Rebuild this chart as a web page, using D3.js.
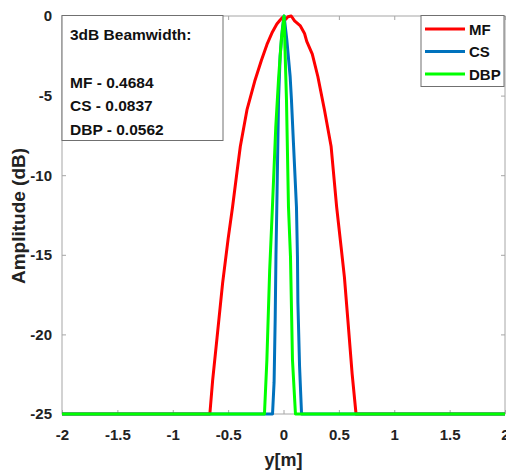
<!DOCTYPE html>
<html>
<head>
<meta charset="utf-8">
<script src="https://cdn.jsdelivr.net/npm/d3@7"></script>
<style>
  body { margin: 0; background: #fff; }
  text { font-family: "Liberation Sans", Arial, sans-serif; font-weight: bold; }
</style>
</head>
<body>
<script>
// series (x in m, amplitude in dB)
var xMF  = [-2, -0.665, -0.64, -0.6, -0.55, -0.5, -0.46, -0.42, -0.39, -0.33, -0.26, -0.2, -0.15, -0.1, -0.06, -0.03, -0.01, 0.02, 0.04, 0.07, 0.1, 0.15, 0.19, 0.21, 0.26, 0.31, 0.37, 0.43, 0.48, 0.52, 0.55, 0.58, 0.62, 0.655, 2];
var dbMF = [-25, -25, -22.9, -20.2, -16.8, -14, -12, -9.8, -8.2, -5.9, -4.1, -2.8, -1.8, -1.0, -0.5, -0.25, -0.1, -0.2, -0.05, 0, -0.3, -0.6, -1.1, -1.6, -2.4, -3.8, -5.9, -8.2, -12, -14.5, -16.4, -19, -22.5, -25, -25];

var xCS  = [-2, -0.099, -0.085, -0.075, -0.068, -0.058, -0.045, -0.03, -0.01, 0.005, 0.03, 0.06, 0.072, 0.09, 0.117, 0.126, 0.13, 0.145, 0.163, 2];
var dbCS = [-25, -25, -23, -19, -15, -11, -5.3, -2.5, -0.8, 0, -1.5, -3.8, -5.3, -8, -12, -15.1, -18, -22, -25, -25];

var xDBP  = [-2, -0.172, -0.15, -0.125, -0.1, -0.07, -0.045, -0.02, 0.005, 0.027, 0.045, 0.063, 0.081, 0.108, 2];
var dbDBP = [-25, -25, -21.6, -16, -12, -7, -4, -1.5, 0, -5.3, -12, -15.1, -21.6, -25, -25];

var seriesNames = ["MF", "CS", "DBP"];
var seriesColors = ["#ff0000", "#0072bd", "#00ff00"];
var xTicks = [-2, -1.5, -1, -0.5, 0, 0.5, 1, 1.5, 2];
var yTicks = [0, -5, -10, -15, -20, -25];
var noteLines = ["3dB Beamwidth:", "", "MF - 0.4684", "CS - 0.0837", "DBP - 0.0562"];

var W = 506, H = 472;
var pLeft = 62, pRight = 505, pTop = 16, pBottom = 414;

var svg = d3.select("body").append("svg").attr("width", W).attr("height", H);

var x = d3.scaleLinear().domain([-2, 2]).range([pLeft, pRight]);
var y = d3.scaleLinear().domain([-25, 0]).range([pBottom, pTop]);

var axisColor = "#a6a6a6";
var fmt = function(d) { return String(d); };

// box + inward ticks on all four sides
svg.append("rect").attr("x", pLeft).attr("y", pTop)
    .attr("width", pRight - pLeft).attr("height", pBottom - pTop)
    .attr("fill", "none").attr("stroke", axisColor).attr("stroke-width", 1);

function styleAxis(g) {
  g.select(".domain").remove();
  g.selectAll(".tick line").attr("stroke", axisColor);
  g.selectAll(".tick text").attr("fill", "#222").attr("font-size", 15);
}

svg.append("g").attr("transform", "translate(0," + pBottom + ")")
    .call(d3.axisBottom(x).tickValues(xTicks).tickSizeInner(-4).tickPadding(15).tickFormat(fmt))
    .call(styleAxis);
svg.append("g").attr("transform", "translate(0," + pTop + ")")
    .call(d3.axisTop(x).tickValues(xTicks).tickSizeInner(-4).tickFormat(""))
    .call(styleAxis);
svg.append("g").attr("transform", "translate(" + pLeft + ",0)")
    .call(d3.axisLeft(y).tickValues(yTicks).tickSizeInner(-4).tickPadding(10).tickFormat(fmt))
    .call(styleAxis);
svg.append("g").attr("transform", "translate(" + pRight + ",0)")
    .call(d3.axisRight(y).tickValues(yTicks).tickSizeInner(-4).tickFormat(""))
    .call(styleAxis);

// curves
var line = d3.line().x(function(d) { return x(d[0]); }).y(function(d) { return y(d[1]); });
var allX = [xMF, xCS, xDBP], allY = [dbMF, dbCS, dbDBP];

svg.append("g").selectAll("path").data(allX).enter().append("path")
    .attr("d", function(xs, i) { return line(d3.zip(xs, allY[i])); })
    .attr("fill", "none")
    .attr("stroke", function(d, i) { return seriesColors[i]; })
    .attr("stroke-width", 3)
    .attr("stroke-linejoin", "round");

// axis labels
svg.append("text").attr("x", x(0)).attr("y", 466).attr("text-anchor", "middle")
    .attr("font-size", 18).attr("fill", "#222").text("y[m]");
svg.append("text").attr("transform", "translate(25," + 216 + ") rotate(-90)")
    .attr("text-anchor", "middle").attr("font-size", 19).attr("fill", "#222").text("Amplitude (dB)");

// annotation box
var note = svg.append("g");
note.append("rect").attr("x", pLeft).attr("y", pTop - 0.5).attr("width", 161).attr("height", 125)
    .attr("fill", "#fff").attr("stroke", "#707070").attr("stroke-width", 1);
note.selectAll("text").data(noteLines).enter().append("text")
    .attr("x", 70).attr("y", function(d, i) { return 40 + i * 23.8; })
    .attr("font-size", 15.5).attr("fill", "#111").text(function(d) { return d; });

// legend
var leg = svg.append("g");
leg.append("rect").attr("x", 421).attr("y", pTop - 0.5).attr("width", 83).attr("height", 71)
    .attr("fill", "#fff").attr("stroke", "#707070").attr("stroke-width", 1);
var items = leg.selectAll("g").data(seriesNames).enter().append("g")
    .attr("transform", function(d, i) { return "translate(0," + (29 + i * 22.5) + ")"; });
items.append("line").attr("x1", 425).attr("x2", 465)
    .attr("stroke", function(d, i) { return seriesColors[i]; }).attr("stroke-width", 3);
items.append("text").attr("x", 469).attr("y", 5.5).attr("font-size", 15).attr("fill", "#111")
    .text(function(d) { return d; });
</script>
</body>
</html>
